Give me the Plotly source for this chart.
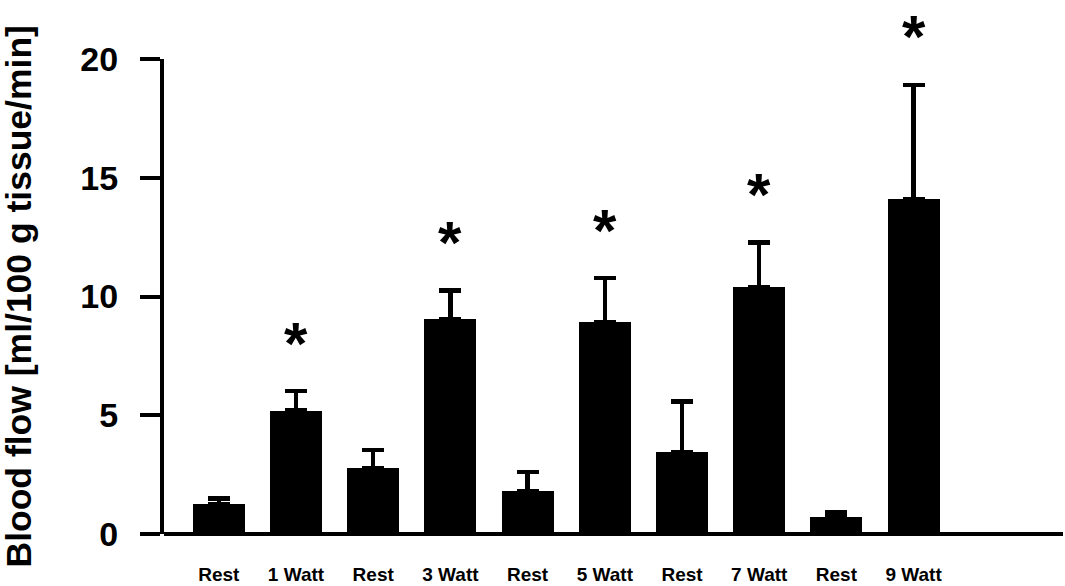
import plotly.graph_objects as go

# Blood flow per condition (mean and upper SD)
conditions = ["Rest", "1 Watt", "Rest", "3 Watt", "Rest", "5 Watt", "Rest", "7 Watt", "Rest", "9 Watt"]
flow_mean = [1.27, 5.19, 2.78, 9.05, 1.79, 8.93, 3.46, 10.39, 0.70, 14.11]
flow_sd = [0.23, 0.83, 0.75, 1.20, 0.82, 1.84, 2.12, 1.88, 0.21, 4.80]
significant = [False, True, False, True, False, True, False, True, False, True]
y_ticks = [0, 5, 10, 15, 20]

FONT = "Liberation Sans, Arial, sans-serif"
positions = list(range(len(conditions)))

fig = go.Figure()
fig.add_trace(go.Bar(
    x=positions,
    y=flow_mean,
    width=0.674,
    marker=dict(color="black", line=dict(width=0)),
    error_y=dict(
        type="data",
        symmetric=False,
        array=flow_sd,
        arrayminus=[0] * len(flow_sd),
        color="black",
        thickness=4.5,
        width=11,
    ),
    showlegend=False,
))

# Significance asterisks above the error bars
for i, (m, s, sig) in enumerate(zip(flow_mean, flow_sd, significant)):
    if sig:
        fig.add_annotation(
            x=i, y=m + s, text="<b>*</b>", showarrow=False,
            xanchor="center", yanchor="middle", yshift=48,
            font=dict(family=FONT, size=60, color="black"),
        )

# Y axis title
fig.add_annotation(
    xref="paper", yref="paper", x=0, y=0.5, xshift=-146,
    text="<b>Blood flow [ml/100 g tissue/min]</b>", textangle=-90,
    showarrow=False, xanchor="center", yanchor="middle",
    font=dict(family=FONT, size=35.5, color="black"),
)

fig.update_layout(
    width=1065, height=586,
    margin=dict(l=164, r=2, t=59, b=52, autoexpand=False),
    paper_bgcolor="white", plot_bgcolor="white",
    font=dict(family=FONT, color="black"),
    bargap=0,
    xaxis=dict(
        range=[-0.71, 10.935],
        tickmode="array",
        tickvals=positions,
        ticktext=[f"<b>{c}</b>" for c in conditions],
        tickfont=dict(family=FONT, size=19, color="black"),
        ticks="", showline=False, showgrid=False, zeroline=False,
        ticklabelstandoff=27,
        automargin=False,
    ),
    yaxis=dict(
        range=[0, 20],
        tickmode="array",
        tickvals=y_ticks,
        ticktext=[f"<b>{v}</b>" for v in y_ticks],
        tickfont=dict(family=FONT, size=34, color="black"),
        ticks="outside", ticklen=20, tickwidth=4, tickcolor="black",
        showline=True, linewidth=4, linecolor="black",
        showgrid=False,
        zeroline=True, zerolinewidth=4, zerolinecolor="black",
        ticklabelstandoff=15,
        automargin=False,
    ),
)

fig.write_html("out.html")
